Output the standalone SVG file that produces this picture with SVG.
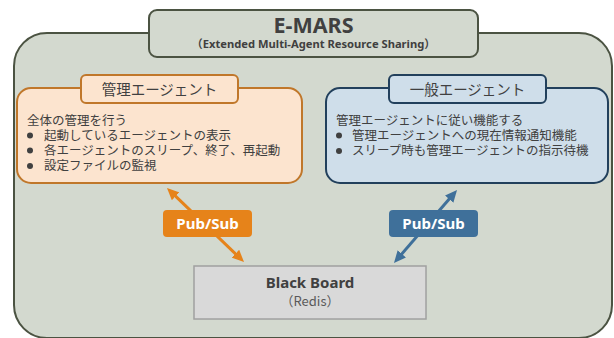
<svg xmlns="http://www.w3.org/2000/svg" width="614" height="338" viewBox="0 0 614 338">
<style>
.jp{font-family:"Noto Sans CJK JP","Noto Sans",sans-serif;fill:#404040}
.lat{font-family:"Noto Sans","Noto Sans CJK JP",sans-serif;fill:#404040}
.b{font-weight:bold}
.body{font-size:12.5px}
.tab{font-size:14.5px}
.ps{font-family:"Noto Sans","Noto Sans CJK JP",sans-serif;font-weight:bold;font-size:15px;fill:#ffffff}
.obox{fill:#fce4cf;stroke:#c0772a;stroke-width:2}
.bbox{fill:#cfdeea;stroke:#22405c;stroke-width:2}
.dot{fill:#404040}
</style>
<defs>
<marker id="ao" markerUnits="userSpaceOnUse" markerWidth="12" markerHeight="11" refX="2" refY="5.5" orient="auto-start-reverse" viewBox="0 0 12 11"><path d="M0,0 L12,5.5 L0,11 z" fill="#e6831a"/></marker>
<marker id="ab" markerUnits="userSpaceOnUse" markerWidth="12" markerHeight="11" refX="2" refY="5.5" orient="auto-start-reverse" viewBox="0 0 12 11"><path d="M0,0 L12,5.5 L0,11 z" fill="#3f709a"/></marker>
</defs>
<g id="container">
<rect x="14" y="33" width="598" height="305" rx="33" fill="#d3d9cf" stroke="#4b5342" stroke-width="2"/>
</g>
<g id="title">
<rect x="149" y="10" width="329" height="47" rx="8" fill="#d3d9cf" stroke="#4b5342" stroke-width="2"/>
<text class="lat b" x="313.5" y="33" font-size="21.5" text-anchor="middle">E-MARS</text>
<text class="lat b" x="313.5" y="48" font-size="11.2" text-anchor="middle">（Extended Multi-Agent Resource Sharing）</text>
</g>
<g id="manager">
<rect class="obox" x="17" y="88" width="285" height="95" rx="14"/>
<rect class="obox" x="81" y="75" width="157" height="28" rx="5"/>
<text class="jp tab" x="159.5" y="94.5" text-anchor="middle">管理エージェント</text>
<text class="jp body" x="27" y="124.5">全体の管理を行う</text>
<circle class="dot" cx="30" cy="135.5" r="3"/>
<text class="jp body" x="44" y="139.5">起動しているエージェントの表示</text>
<circle class="dot" cx="30" cy="150.5" r="3"/>
<text class="jp body" x="44" y="154.5">各エージェントのスリープ、終了、再起動</text>
<circle class="dot" cx="30" cy="166" r="3"/>
<text class="jp body" x="44" y="170">設定ファイルの監視</text>
</g>
<g id="general">
<rect class="bbox" x="326" y="88" width="282" height="95" rx="14"/>
<rect class="bbox" x="389" y="75" width="157" height="28" rx="5"/>
<text class="jp tab" x="467.5" y="94.5" text-anchor="middle">一般エージェント</text>
<text class="jp body" x="336" y="124.5">管理エージェントに従い機能する</text>
<circle class="dot" cx="339" cy="135.5" r="3"/>
<text class="jp body" x="352" y="139.5">管理エージェントへの現在情報通知機能</text>
<circle class="dot" cx="339" cy="151" r="3"/>
<text class="jp body" x="352" y="155">スリープ時も管理エージェントの指示待機</text>
</g>
<g id="blackboard">
<rect x="194" y="266" width="232" height="53" fill="#d9d9d9" stroke="#a0a0a0" stroke-width="1.5"/>
<text class="lat b" x="310" y="288" font-size="15" text-anchor="middle">Black Board</text>
<text class="jp" x="310" y="306" font-size="13" text-anchor="middle" style="fill:#595959">（Redis）</text>
</g>
<g id="connectors">
<line x1="174.2" y1="194.9" x2="236.8" y2="255.1" stroke="#e6831a" stroke-width="3" marker-start="url(#ao)" marker-end="url(#ao)"/>
<line x1="450.5" y1="197.6" x2="400.5" y2="255.4" stroke="#3f709a" stroke-width="3" marker-start="url(#ab)" marker-end="url(#ab)"/>
<rect x="163" y="210" width="89" height="27" rx="4" fill="#e6831a"/>
<text class="ps" x="207.5" y="228.5" text-anchor="middle">Pub/Sub</text>
<rect x="389" y="210" width="89" height="27" rx="4" fill="#3f709a"/>
<text class="ps" x="433.5" y="228.5" text-anchor="middle">Pub/Sub</text>
</g>
</svg>
